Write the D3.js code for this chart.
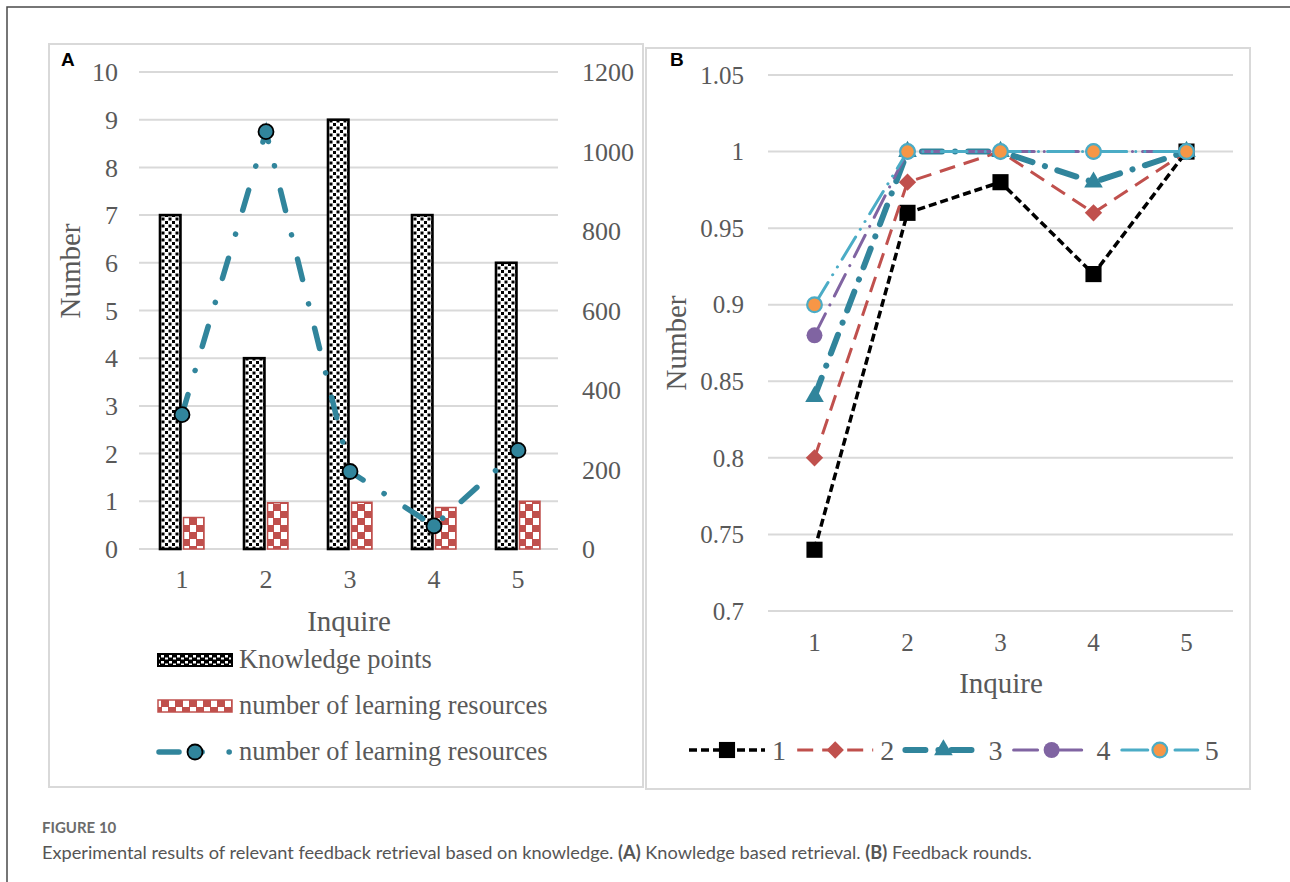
<!DOCTYPE html>
<html>
<head>
<meta charset="utf-8">
<script src="https://cdn.jsdelivr.net/npm/d3@7"></script>
<style>
  body { margin: 0; background: #fff; }
  svg { display: block; }
  .tick-label { font-family: "Liberation Serif", "Times New Roman", serif; fill: #595959; }
</style>
</head>
<body>
<div id="chart"></div>
<script>
// panel A data
const inquire = ['1', '2', '3', '4', '5'];
const knowledgePoints = [7, 4, 9, 7, 6];
const resourceBars = [0.66, 0.97, 0.98, 0.87, 1.0];
const resourceLine = [338, 1050, 195, 58, 248];
const leftTicksA = [0, 1, 2, 3, 4, 5, 6, 7, 8, 9, 10];
const rightTicksA = [0, 200, 400, 600, 800, 1000, 1200];
const legendA = ['Knowledge points', 'number of learning resources', 'number of learning resources'];

// panel B data
const roundNames = ['1', '2', '3', '4', '5'];
const round1 = [0.74, 0.96, 0.98, 0.92, 1.0];
const round2 = [0.80, 0.98, 1.0, 0.96, 1.0];
const round3 = [0.84, 1.0, 1.0, 0.98, 1.0];
const round4 = [0.88, 1.0, 1.0, 1.0, 1.0];
const round5 = [0.90, 1.0, 1.0, 1.0, 1.0];
const ticksB = [0.7, 0.75, 0.8, 0.85, 0.9, 0.95, 1.0, 1.05];

const W = 1290, H = 882;
const gridColor = '#d9d9d9';
const teal = '#31859c';

const svg = d3.select('#chart').append('svg')
  .attr('width', W)
  .attr('height', H);

/* patterns */
const defs = svg.append('defs');
const kp = defs.append('pattern')
  .attr('id', 'kp').attr('patternUnits', 'userSpaceOnUse')
  .attr('width', 7).attr('height', 7);
kp.append('rect').attr('width', 7).attr('height', 7).attr('fill', '#fff');
kp.append('rect').attr('x', 0.5).attr('y', 0.5).attr('width', 3).attr('height', 3).attr('fill', '#000');
kp.append('rect').attr('x', 4).attr('y', 4).attr('width', 3).attr('height', 3).attr('fill', '#000');

const kpInv = defs.append('pattern')
  .attr('id', 'kpInv').attr('patternUnits', 'userSpaceOnUse')
  .attr('width', 8).attr('height', 6);
kpInv.append('rect').attr('width', 8).attr('height', 6).attr('fill', '#000');
kpInv.append('rect').attr('x', 1).attr('y', 1).attr('width', 3).attr('height', 2.5).attr('fill', '#fff');
kpInv.append('rect').attr('x', 5).attr('y', 3.5).attr('width', 3).attr('height', 2).attr('fill', '#fff');

const lr = defs.append('pattern')
  .attr('id', 'lr').attr('patternUnits', 'userSpaceOnUse')
  .attr('width', 14).attr('height', 14);
lr.append('rect').attr('width', 14).attr('height', 14).attr('fill', '#c0504d');
lr.append('rect').attr('x', 1).attr('y', 0).attr('width', 6).attr('height', 7).attr('fill', '#fff');
lr.append('rect').attr('x', 8).attr('y', 7).attr('width', 6).attr('height', 7).attr('fill', '#fff');

/* outer frame */
svg.append('path')
  .attr('d', `M7,${H}V7H${W}`)
  .attr('fill', 'none')
  .attr('stroke', '#4a4a4a')
  .attr('stroke-width', 1.5);

/* panel frames */
svg.append('rect')
  .attr('x', 49).attr('y', 44).attr('width', 594).attr('height', 743)
  .attr('fill', 'none').attr('stroke', gridColor).attr('stroke-width', 2);
svg.append('rect')
  .attr('x', 646).attr('y', 48).attr('width', 604).attr('height', 741)
  .attr('fill', 'none').attr('stroke', gridColor).attr('stroke-width', 2);

svg.append('text').attr('x', 61).attr('y', 66).text('A')
  .style('font-family', 'Liberation Sans, Arial, sans-serif')
  .style('font-weight', 'bold').style('font-size', '19px');
svg.append('text').attr('x', 670).attr('y', 66).text('B')
  .style('font-family', 'Liberation Sans, Arial, sans-serif')
  .style('font-weight', 'bold').style('font-size', '19px');

/* ================= panel A ================= */
const xA = d3.scaleBand().domain(inquire).range([139, 559]);
const yA = d3.scaleLinear().domain([0, 10]).range([549, 72]);
const yA2 = d3.scaleLinear().domain([0, 1200]).range([549, 72]);
const xSub = d3.scaleBand().domain(['kp', 'lr']).paddingInner(0.13);

const gA = svg.append('g').attr('class', 'panelA');

gA.append('g').attr('class', 'grid')
  .selectAll('line')
  .data(leftTicksA)
  .enter().append('line')
  .attr('x1', 139).attr('x2', 558)
  .attr('y1', d => yA(d)).attr('y2', d => yA(d))
  .attr('stroke', gridColor).attr('stroke-width', 2);

gA.append('g').selectAll('text')
  .data(leftTicksA)
  .enter().append('text')
  .attr('class', 'tick-label')
  .attr('x', 118).attr('y', d => yA(d)).attr('dy', '0.35em')
  .attr('text-anchor', 'end')
  .style('font-size', '26px')
  .text(d => d);

gA.append('g').selectAll('text')
  .data(rightTicksA)
  .enter().append('text')
  .attr('class', 'tick-label')
  .attr('x', 582).attr('y', d => yA2(d)).attr('dy', '0.35em')
  .attr('text-anchor', 'start')
  .style('font-size', '26px')
  .text(d => d);

gA.append('g').selectAll('text')
  .data(inquire)
  .enter().append('text')
  .attr('class', 'tick-label')
  .attr('x', d => xA(d) + xA.bandwidth() / 2 + 1)
  .attr('y', 588)
  .attr('text-anchor', 'middle')
  .style('font-size', '26px')
  .text(d => d);

gA.append('text')
  .attr('class', 'tick-label')
  .attr('transform', 'translate(80, 271) rotate(-90)')
  .attr('text-anchor', 'middle')
  .style('font-size', '29px')
  .text('Number');

gA.append('text')
  .attr('class', 'tick-label')
  .attr('x', 349).attr('y', 631)
  .attr('text-anchor', 'middle')
  .style('font-size', '29px')
  .text('Inquire');

/* bars */
const groupCenter = d => xA(d) + xA.bandwidth() / 2 + 1;
xSub.range([-22, 22]);

gA.append('g').selectAll('rect')
  .data(inquire)
  .enter().append('rect')
  .attr('x', (d, i) => groupCenter(d) + xSub('kp'))
  .attr('y', (d, i) => yA(knowledgePoints[i]))
  .attr('width', xSub.bandwidth())
  .attr('height', (d, i) => yA(0) - yA(knowledgePoints[i]))
  .attr('fill', 'url(#kp)')
  .attr('stroke', '#000')
  .attr('stroke-width', 2.6);

gA.append('g').selectAll('rect')
  .data(inquire)
  .enter().append('rect')
  .attr('x', (d, i) => groupCenter(d) + xSub('lr'))
  .attr('y', (d, i) => yA(resourceBars[i]))
  .attr('width', xSub.bandwidth())
  .attr('height', (d, i) => yA(0) - yA(resourceBars[i]))
  .attr('fill', 'url(#lr)')
  .attr('stroke', '#c0504d')
  .attr('stroke-width', 1.5);

/* line on right axis */
const lineA = d3.line()
  .x((d, i) => groupCenter(inquire[i]))
  .y(d => yA2(d));

gA.append('path')
  .datum(resourceLine)
  .attr('d', lineA)
  .attr('fill', 'none')
  .attr('stroke', teal)
  .attr('stroke-width', 5.5)
  .attr('stroke-linecap', 'round')
  .attr('stroke-dasharray', '21 25 0.1 25');

gA.append('g').selectAll('circle')
  .data(resourceLine)
  .enter().append('circle')
  .attr('cx', (d, i) => groupCenter(inquire[i]))
  .attr('cy', d => yA2(d))
  .attr('r', 7.5)
  .attr('fill', teal)
  .attr('stroke', '#000')
  .attr('stroke-width', 1.8);

/* legend A */
const legA = gA.append('g').attr('class', 'legend');
const legRows = [660, 706, 752];
legA.append('rect').attr('x', 158).attr('y', legRows[0] - 6).attr('width', 74).attr('height', 12)
  .attr('fill', 'url(#kpInv)').attr('stroke', '#000').attr('stroke-width', 2);
legA.append('rect').attr('x', 158).attr('y', legRows[1] - 6).attr('width', 74).attr('height', 12)
  .attr('fill', 'url(#lr)').attr('stroke', '#c0504d').attr('stroke-width', 1.5);
legA.append('line')
  .attr('x1', 159).attr('x2', 232).attr('y1', legRows[2]).attr('y2', legRows[2])
  .attr('stroke', teal).attr('stroke-width', 5.5).attr('stroke-linecap', 'round')
  .attr('stroke-dasharray', '20 23 0.1 27 0.1 40');
legA.append('circle').attr('cx', 195).attr('cy', legRows[2]).attr('r', 7.5)
  .attr('fill', teal).attr('stroke', '#000').attr('stroke-width', 1.8);
legA.selectAll('text.item')
  .data(legendA)
  .enter().append('text')
  .attr('class', 'tick-label item')
  .attr('x', 239)
  .attr('y', (d, i) => legRows[i]).attr('dy', '0.32em')
  .style('font-size', '26.4px')
  .text(d => d);

/* ================= panel B ================= */
const xB = d3.scaleBand().domain(inquire).range([768, 1233]);
const yB = d3.scaleLinear().domain([0.7, 1.05]).range([611, 75]);
const gB = svg.append('g').attr('class', 'panelB');

gB.append('g').attr('class', 'grid')
  .selectAll('line')
  .data(ticksB)
  .enter().append('line')
  .attr('x1', 768).attr('x2', 1233)
  .attr('y1', d => yB(d)).attr('y2', d => yB(d))
  .attr('stroke', gridColor).attr('stroke-width', 2);

gB.append('g').selectAll('text')
  .data(ticksB)
  .enter().append('text')
  .attr('class', 'tick-label')
  .attr('x', 744).attr('y', d => yB(d)).attr('dy', '0.35em')
  .attr('text-anchor', 'end')
  .style('font-size', '25px')
  .text(d => String(+d.toFixed(2)));

gB.append('g').selectAll('text')
  .data(inquire)
  .enter().append('text')
  .attr('class', 'tick-label')
  .attr('x', d => xB(d) + xB.bandwidth() / 2)
  .attr('y', 651)
  .attr('text-anchor', 'middle')
  .style('font-size', '25px')
  .text(d => d);

gB.append('text')
  .attr('class', 'tick-label')
  .attr('transform', 'translate(686, 343) rotate(-90)')
  .attr('text-anchor', 'middle')
  .style('font-size', '29px')
  .text('Number');

gB.append('text')
  .attr('class', 'tick-label')
  .attr('x', 1001).attr('y', 693)
  .attr('text-anchor', 'middle')
  .style('font-size', '29px')
  .text('Inquire');

const rounds = [round1, round2, round3, round4, round5];
const roundStyle = [
  { stroke: '#000', width: 3.5, dash: '8 4', cap: 'butt', symbol: d3.symbolSquare, size: 260, rotate: 0, fill: '#000', mStroke: 'none' },
  { stroke: '#c0504d', width: 3, dash: '16 9', cap: 'butt', symbol: d3.symbolSquare, size: 150, rotate: 45, fill: '#c0504d', mStroke: 'none' },
  { stroke: teal, width: 6, dash: '20 13 0.1 13', cap: 'round', symbol: d3.symbolTriangle, size: 150, rotate: 0, fill: teal, mStroke: 'none' },
  { stroke: '#8064a2', width: 3, dash: '24 10 0.1 10', cap: 'round', symbol: d3.symbolCircle, size: 200, rotate: 0, fill: '#8064a2', mStroke: 'none' },
  { stroke: '#4bacc6', width: 3, dash: '26 9 0.1 9 0.1 9', cap: 'round', symbol: d3.symbolCircle, size: 170, rotate: 0, fill: '#f79646', mStroke: '#4bacc6' },
];

const lineB = d3.line()
  .x((d, i) => xB(inquire[i]) + xB.bandwidth() / 2)
  .y(d => yB(d));

const series = gB.append('g').attr('class', 'lines')
  .selectAll('.series')
  .data(rounds)
  .enter().append('g')
  .attr('class', 'series');

series.append('path')
  .attr('d', lineB)
  .attr('fill', 'none')
  .attr('stroke', (d, i) => roundStyle[i].stroke)
  .attr('stroke-width', (d, i) => roundStyle[i].width)
  .attr('stroke-dasharray', (d, i) => roundStyle[i].dash)
  .attr('stroke-linecap', (d, i) => roundStyle[i].cap);

series.each(function (values, k) {
  const st = roundStyle[k];
  d3.select(this).selectAll('path.marker')
    .data(values)
    .enter().append('path')
    .attr('class', 'marker')
    .attr('d', d3.symbol().type(st.symbol).size(st.size))
    .attr('transform', (d, i) => `translate(${xB(inquire[i]) + xB.bandwidth() / 2},${yB(d)}) rotate(${st.rotate})`)
    .attr('fill', st.fill)
    .attr('stroke', st.mStroke)
    .attr('stroke-width', 2.2);
});

/* legend B */
const legB = gB.append('g').attr('class', 'legend')
  .selectAll('.legend-item')
  .data(roundNames)
  .enter().append('g')
  .attr('class', 'legend-item')
  .attr('transform', (d, i) => `translate(${689 + i * 108.2}, 750)`);

legB.append('line')
  .attr('x1', 0).attr('x2', 76)
  .attr('stroke', (d, i) => roundStyle[i].stroke)
  .attr('stroke-width', (d, i) => roundStyle[i].width)
  .attr('stroke-dasharray', (d, i) => roundStyle[i].dash)
  .attr('stroke-linecap', (d, i) => roundStyle[i].cap);
legB.append('path')
  .attr('d', (d, i) => d3.symbol().type(roundStyle[i].symbol).size(roundStyle[i].size)())
  .attr('transform', (d, i) => `translate(38,0) rotate(${roundStyle[i].rotate})`)
  .attr('fill', (d, i) => roundStyle[i].fill)
  .attr('stroke', (d, i) => roundStyle[i].mStroke)
  .attr('stroke-width', 2.2);
legB.append('text')
  .attr('class', 'tick-label')
  .attr('x', 83).attr('dy', '0.35em')
  .style('font-size', '28px')
  .text(d => d);

/* caption */
svg.append('text')
  .attr('x', 42).attr('y', 833)
  .text('FIGURE 10')
  .style('font-family', 'Lato, "Open Sans", sans-serif')
  .style('font-weight', 'bold')
  .style('font-size', '15px')
  .style('fill', '#6b6b6b');

const cap = svg.append('text')
  .attr('x', 42).attr('y', 859)
  .style('font-family', 'Lato, "Open Sans", sans-serif')
  .style('font-size', '18.2px')
  .style('fill', '#555');
cap.append('tspan').text('Experimental results of relevant feedback retrieval based on knowledge. ');
cap.append('tspan').style('font-weight', 'bold').text('(A)');
cap.append('tspan').text(' Knowledge based retrieval. ');
cap.append('tspan').style('font-weight', 'bold').text('(B)');
cap.append('tspan').text(' Feedback rounds.');
</script>
</body>
</html>
